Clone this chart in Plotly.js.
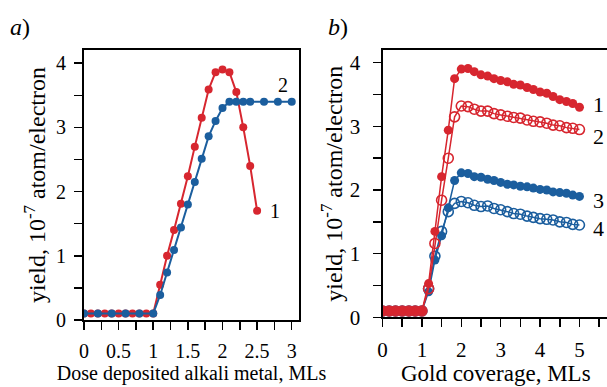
<!DOCTYPE html>
<html><head><meta charset="utf-8">
<script src="https://cdn.plot.ly/plotly-3.0.1.min.js"></script>
<style>html,body{margin:0;padding:0;overflow:hidden;background:#fff;width:607px;height:387px}</style>
</head><body><div id="chart" style="width:615px;height:387px"></div>
<script>
// Panel a: dose of deposited alkali metal (MLs)
const doseX1 = [0,0.1,0.2,0.3,0.4,0.5,0.6,0.7,0.8,0.9,1.0,1.1,1.2,1.3,1.4,1.5,1.6,1.7,1.8,1.9,2.0,2.1,2.2,2.3,2.4,2.5];
const yieldA1 = [0.1,0.1,0.1,0.1,0.1,0.1,0.1,0.1,0.1,0.1,0.1,0.55,1.0,1.40,1.81,2.24,2.70,3.15,3.59,3.86,3.90,3.86,3.55,3.0,2.40,1.70];
const doseX2 = [0,0.2,0.4,0.6,0.8,1.0,1.1,1.2,1.3,1.4,1.5,1.6,1.7,1.8,1.9,2.0,2.1,2.2,2.3,2.4,2.6,2.8,3.0];
const yieldA2 = [0.1,0.1,0.1,0.1,0.1,0.1,0.39,0.74,1.09,1.44,1.80,2.15,2.51,2.86,3.10,3.30,3.40,3.40,3.40,3.40,3.40,3.40,3.40];

// Panel b: gold coverage (MLs)
const goldX = [0,0.17,0.33,0.5,0.67,0.83,1,1.17,1.33,1.5,1.67,1.83,2,2.17,2.33,2.5,2.67,2.83,3,3.17,3.33,3.5,3.67,3.83,4,4.17,4.33,4.5,4.67,4.83,5];
const yieldB1 = [0.1,0.1,0.1,0.1,0.1,0.1,0.1,0.53,1.35,2.21,2.94,3.75,3.90,3.91,3.86,3.81,3.79,3.75,3.72,3.70,3.66,3.65,3.61,3.58,3.54,3.52,3.47,3.42,3.39,3.36,3.30];
const yieldB2 = [0.1,0.1,0.1,0.1,0.1,0.1,0.1,0.45,1.16,1.84,2.50,3.15,3.32,3.31,3.27,3.24,3.24,3.20,3.18,3.16,3.14,3.13,3.10,3.08,3.07,3.05,3.02,3.01,2.98,2.97,2.95];
const yieldB3 = [0.1,0.1,0.1,0.1,0.1,0.1,0.1,0.40,0.90,1.28,1.72,2.15,2.27,2.26,2.21,2.20,2.17,2.15,2.12,2.09,2.08,2.06,2.05,2.03,2.01,2.00,1.97,1.96,1.95,1.92,1.90];
const yieldB4 = [0.1,0.1,0.1,0.1,0.1,0.1,0.1,0.45,0.96,1.35,1.66,1.79,1.82,1.80,1.76,1.74,1.75,1.71,1.69,1.66,1.63,1.62,1.59,1.57,1.55,1.54,1.53,1.50,1.49,1.46,1.45];

const xTickVals = [0,0.5,1,1.5,2,2.5,3];
const xTickVals2 = [0,1,2,3,4,5];
const yTickVals = [0,1,2,3,4];

const RED = '#d7262f', BLUE = '#1b5e9e';
const W = 615, H = 387;
const FONT = '"Liberation Serif"';
const fx = p => p / W, fy = p => (H - p) / H;

const traces = [
  {x: doseX1, y: yieldA1, xaxis:'x', yaxis:'y', mode:'lines+markers', line:{color:RED,width:2}, marker:{color:RED,size:8}},
  {x: doseX2, y: yieldA2, xaxis:'x', yaxis:'y', mode:'lines+markers', line:{color:BLUE,width:2}, marker:{color:BLUE,size:8}},
  {x: goldX, y: yieldB3, xaxis:'x2', yaxis:'y2', mode:'lines+markers', line:{color:BLUE,width:1.5}, marker:{color:BLUE,size:9}},
  {x: goldX, y: yieldB4, xaxis:'x2', yaxis:'y2', mode:'lines+markers', line:{color:BLUE,width:1.5}, marker:{color:BLUE,size:10,symbol:'circle-open',line:{color:BLUE,width:1.6}}},
  {x: goldX, y: yieldB1, xaxis:'x2', yaxis:'y2', mode:'lines+markers', line:{color:RED,width:1.5}, marker:{color:RED,size:9}},
  {x: goldX, y: yieldB2, xaxis:'x2', yaxis:'y2', mode:'lines+markers', line:{color:RED,width:1.5}, marker:{color:RED,size:10,symbol:'circle-open',line:{color:RED,width:1.6}}}
];

function axisBase(tickSize) {
  return {showline:true, linecolor:'#000', linewidth:2, mirror:true, showgrid:false, zeroline:false,
    ticks:'outside', ticklen:8, tickwidth:1.5, tickcolor:'#000',
    tickfont:{family:FONT, size:tickSize, color:'#000'}};
}

const layout = {
  width: W, height: H, margin:{l:0,r:0,t:0,b:0}, showlegend:false,
  paper_bgcolor:'#fff', plot_bgcolor:'#fff', font:{family:FONT, color:'#000'},
  xaxis: Object.assign(axisBase(20), {domain:[fx(84), fx(299)], range:[0,3.105], anchor:'y',
    tickmode:'array', tickvals:xTickVals, ticktext:xTickVals.map(String), ticklabelstandoff:4,
    minor:{dtick:0.25, tick0:0, ticks:'outside', ticklen:8, tickwidth:1.5, tickcolor:'#000'},
    title:{text:'Dose deposited alkali metal, MLs', font:{family:FONT,size:20,color:'#000'}, standoff:2}}),
  yaxis: Object.assign(axisBase(20), {domain:[fy(320), fy(50)], range:[0,4.205], anchor:'x',
    tickmode:'array', tickvals:yTickVals, ticktext:yTickVals.map(String), ticklabelstandoff:4,
    minor:{dtick:0.5, tick0:0, ticks:'outside', ticklen:8, tickwidth:1.5, tickcolor:'#000'},
    title:{text:'yield, 10<sup>-7</sup> atom/electron', font:{family:FONT,size:24,color:'#000'}, standoff:4}}),
  xaxis2: Object.assign(axisBase(21), {domain:[fx(382.5), fx(609)], range:[0,5.75], anchor:'y2',
    tickmode:'array', tickvals:xTickVals2, ticktext:xTickVals2.map(String), ticklabelstandoff:4,
    minor:{dtick:0.5, tick0:0, ticks:'outside', ticklen:8, tickwidth:1.5, tickcolor:'#000'},
    title:{text:'Gold coverage, MLs', font:{family:FONT,size:23,color:'#000'}, standoff:1}}),
  yaxis2: Object.assign(axisBase(21), {domain:[fy(317.3), fy(50)], range:[0,4.2], anchor:'x2',
    tickmode:'array', tickvals:yTickVals, ticktext:yTickVals.map(String), ticklabelstandoff:8,
    minor:{dtick:0.5, tick0:0, ticks:'outside', ticklen:8, tickwidth:1.5, tickcolor:'#000'},
    title:{text:'yield, 10<sup>-7</sup> atom/electron', font:{family:FONT,size:24,color:'#000'}, standoff:0}}),
  annotations: [
    {xref:'paper', yref:'paper', x:fx(8), y:fy(12), xanchor:'left', yanchor:'top', showarrow:false, text:'<i>a</i>)', font:{family:FONT,size:24,color:'#000'}},
    {xref:'paper', yref:'paper', x:fx(326), y:fy(12), xanchor:'left', yanchor:'top', showarrow:false, text:'<i>b</i>)', font:{family:FONT,size:24,color:'#000'}},
    {xref:'x', yref:'y', x:2.66, y:1.70, xanchor:'left', showarrow:false, text:'1', font:{family:FONT,size:20,color:'#000'}},
    {xref:'x', yref:'y', x:2.77, y:3.66, xanchor:'left', showarrow:false, text:'2', font:{family:FONT,size:20,color:'#000'}},
    {xref:'x2', yref:'y2', x:5.30, y:3.34, xanchor:'left', showarrow:false, text:'1', font:{family:FONT,size:22,color:'#000'}},
    {xref:'x2', yref:'y2', x:5.30, y:2.84, xanchor:'left', showarrow:false, text:'2', font:{family:FONT,size:22,color:'#000'}},
    {xref:'x2', yref:'y2', x:5.30, y:1.84, xanchor:'left', showarrow:false, text:'3', font:{family:FONT,size:22,color:'#000'}},
    {xref:'x2', yref:'y2', x:5.30, y:1.40, xanchor:'left', showarrow:false, text:'4', font:{family:FONT,size:22,color:'#000'}}
  ]
};

Plotly.newPlot('chart', traces, layout, {staticPlot:true, displayModeBar:false});
</script></body></html>
